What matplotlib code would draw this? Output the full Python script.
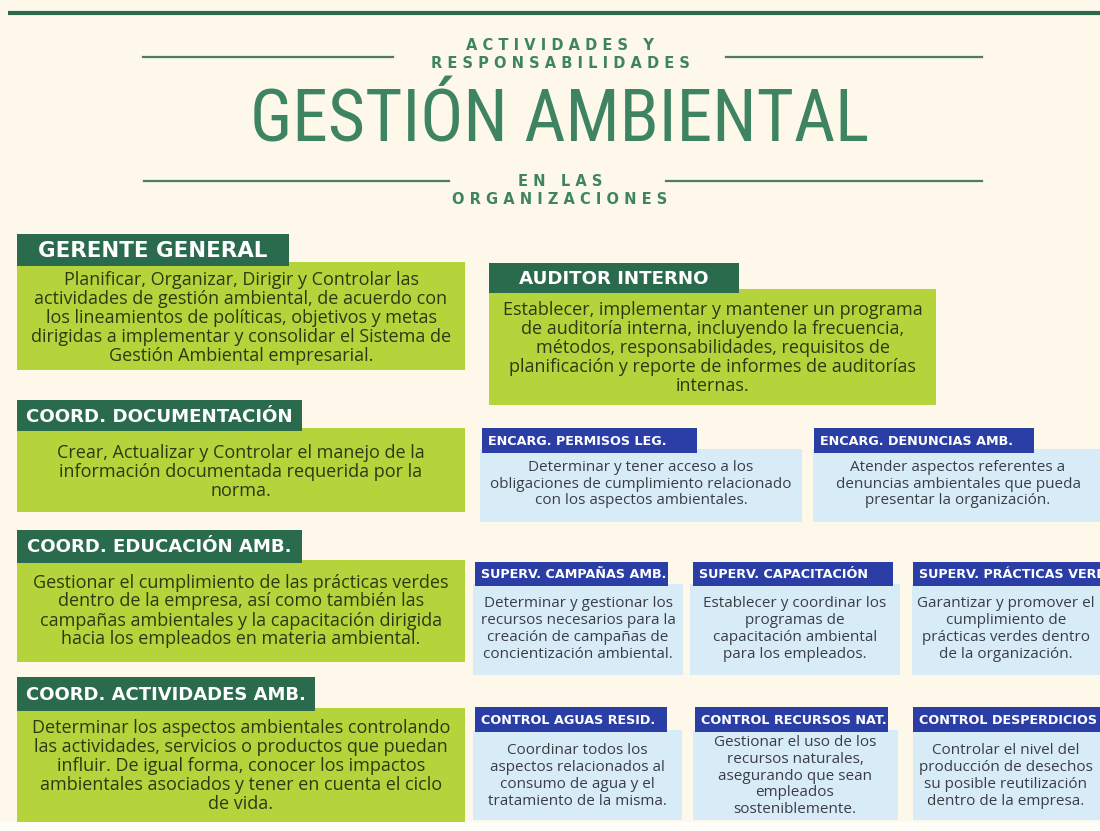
import matplotlib.pyplot as plt
from matplotlib.patches import Rectangle
from matplotlib import font_manager

# === Texts ===

top_words = ["ACTIVIDADES Y", "RESPONSABILIDADES"]
main_title = "GESTIÓN AMBIENTAL"
bottom_words = ["EN LAS", "ORGANIZACIONES"]

green_titles = [
    "GERENTE GENERAL",
    "AUDITOR INTERNO",
    "COORD. DOCUMENTACIÓN",
    "COORD. EDUCACIÓN AMB.",
    "COORD. ACTIVIDADES AMB.",
]
green_lines = [
    ["Planificar, Organizar, Dirigir y Controlar las",
     "actividades de gestión ambiental, de acuerdo con",
     "los lineamientos de políticas, objetivos y metas",
     "dirigidas a implementar y consolidar el Sistema de",
     "Gestión Ambiental empresarial."],
    ["Establecer, implementar y mantener un programa",
     "de auditoría interna, incluyendo la frecuencia,",
     "métodos, responsabilidades, requisitos de",
     "planificación y reporte de informes de auditorías",
     "internas."],
    ["Crear, Actualizar y Controlar el manejo de la",
     "información documentada requerida por la",
     "norma."],
    ["Gestionar el cumplimiento de las prácticas verdes",
     "dentro de la empresa, así como también las",
     "campañas ambientales y la capacitación dirigida",
     "hacia los empleados en materia ambiental."],
    ["Determinar los aspectos ambientales controlando",
     "las actividades, servicios o productos que puedan",
     "influir. De igual forma, conocer los impactos",
     "ambientales asociados y tener en cuenta el ciclo",
     "de vida."],
]

blue_titles = [
    "ENCARG. PERMISOS LEG.",
    "ENCARG. DENUNCIAS AMB.",
    "SUPERV. CAMPAÑAS AMB.",
    "SUPERV. CAPACITACIÓN",
    "SUPERV. PRÁCTICAS VERDES",
    "CONTROL AGUAS RESID.",
    "CONTROL RECURSOS NAT.",
    "CONTROL DESPERDICIOS",
]
blue_lines = [
    ["Determinar y tener acceso a los",
     "obligaciones de cumplimiento relacionado",
     "con los aspectos ambientales."],
    ["Atender aspectos referentes a",
     "denuncias ambientales que pueda",
     "presentar la organización."],
    ["Determinar y gestionar los",
     "recursos necesarios para la",
     "creación de campañas de",
     "concientización ambiental."],
    ["Establecer y coordinar los",
     "programas de",
     "capacitación ambiental",
     "para los empleados."],
    ["Garantizar y promover el",
     "cumplimiento de",
     "prácticas verdes dentro",
     "de la organización."],
    ["Coordinar todos los",
     "aspectos relacionados al",
     "consumo de agua y el",
     "tratamiento de la misma."],
    ["Gestionar el uso de los",
     "recursos naturales,",
     "asegurando que sean",
     "empleados",
     "sosteniblemente."],
    ["Controlar el nivel del",
     "producción de desechos",
     "su posible reutilización",
     "dentro de la empresa."],
]

# === Layout (pixels, y downwards) ===

# header rect (x, y, w, h), body rect (x, y, w, h), text centre y
green_heads = [(17, 234, 272, 32), (489, 263, 250, 30), (17, 400, 285, 31),
               (17, 530, 285, 33), (17, 677, 298, 34)]
green_head_text_w = [228, 190, 266, 264, 280]
green_bodies = [(17, 262, 448, 108), (489, 289, 447, 116), (17, 428, 448, 84),
                (17, 560, 448, 102), (17, 708, 448, 114)]
green_cy = [318, 348, 472, 611, 766]

blue_heads = [(482, 428, 215, 25), (814, 428, 220, 25), (475, 562, 193, 24),
              (693, 562, 200, 24), (913, 562, 200, 24), (475, 707, 192, 25),
              (695, 707, 193, 25), (913, 707, 200, 25)]
blue_bodies = [(480, 449, 322, 73), (813, 449, 290, 73), (473, 584, 210, 91),
               (690, 584, 210, 91), (912, 584, 200, 91), (473, 730, 209, 90),
               (693, 730, 205, 90), (913, 730, 200, 90)]
blue_cx = [641, 958, 578, 795, 1006, 577, 795, 1006]
blue_cy = [484, 484, 629, 629, 629, 776, 776, 776]

# === Colours ===

BG = "#fdf8ea"
DARK_GREEN = "#2a6b4e"
LIME = "#b5d33a"
TITLE_GREEN = "#3f8462"
RULE = "#4f7a64"
BLUE = "#2b3ea6"
LIGHT_BLUE = "#d8ecf8"
GREEN_TEXT = "#2c3a14"
BLUE_TEXT = "#3a3d46"

names = {f.name for f in font_manager.fontManager.ttflist}
narrow = next((n for n in ["Liberation Sans Narrow", "Roboto Condensed", "DejaVu Sans"]
               if n in names), "DejaVu Sans")
BODY_FONT = "Open Sans"
HEAD_FONT = "DejaVu Sans"

# === Figure ===

fig = plt.figure(figsize=(11, 8.31), dpi=100)
fig.patch.set_facecolor(BG)
ax = fig.add_axes([0, 0, 1, 1])
ax.set_xlim(0, 1100)
ax.set_ylim(831, 0)
ax.axis("off")
renderer = fig.canvas.get_renderer()


def fit_width(t, width):
    w = t.get_window_extent(renderer).width
    t.set_fontsize(t.get_fontsize() * width / w)


def spaced(word):
    return " ".join(word)


# top band
ax.plot([8, 1100], [13, 13], color="#2f6a4d", lw=3, solid_capstyle="butt")
ax.add_patch(Rectangle((0, 822), 1100, 9, color="#fefdf8", lw=0))

# header block
CX = 560
for y, word in zip([46, 63], top_words):
    ax.text(CX, y, spaced(word), ha="center", va="center", fontsize=10.5,
            fontweight="bold", color=TITLE_GREEN, family=HEAD_FONT)
for y, word in zip([182, 199], bottom_words):
    ax.text(CX, y, spaced(word), ha="center", va="center", fontsize=10.5,
            fontweight="bold", color=TITLE_GREEN, family=HEAD_FONT)
t = ax.text(CX, 122, main_title, ha="center", va="center", fontsize=50,
            color=TITLE_GREEN, family=narrow)
fit_width(t, 620)

ax.plot([143, 393], [57, 57], color=RULE, lw=1.6)
ax.plot([726, 982], [57, 57], color=RULE, lw=1.6)
ax.plot([144, 449], [181, 181], color=RULE, lw=1.6)
ax.plot([666, 982], [181, 181], color=RULE, lw=1.6)

# green role boxes
for title, lines, (hx, hy, hw, hh), tw, (bx, by, bw, bh), cy in zip(
        green_titles, green_lines, green_heads, green_head_text_w,
        green_bodies, green_cy):
    ax.add_patch(Rectangle((bx, by), bw, bh, color=LIME, lw=0))
    ax.add_patch(Rectangle((hx, hy), hw, hh, color=DARK_GREEN, lw=0))
    t = ax.text(hx + hw / 2, hy + hh / 2 + 1, title, ha="center", va="center",
                fontsize=13, fontweight="bold", color="white", family=HEAD_FONT)
    fit_width(t, tw)
    gap = 19
    for i, line in enumerate(lines):
        ax.text(bx + bw / 2, cy + (i - (len(lines) - 1) / 2) * gap, line,
                ha="center", va="center", fontsize=13, color=GREEN_TEXT,
                family=BODY_FONT)

# blue sub-role boxes
for title, lines, (hx, hy, hw, hh), (bx, by, bw, bh), cx, cy in zip(
        blue_titles, blue_lines, blue_heads, blue_bodies, blue_cx, blue_cy):
    ax.add_patch(Rectangle((bx, by), bw, bh, color=LIGHT_BLUE, lw=0))
    ax.add_patch(Rectangle((hx, hy), hw, hh, color=BLUE, lw=0))
    ax.text(hx + 6, hy + hh / 2 + 1, title, ha="left", va="center",
            fontsize=9.2, fontweight="bold", color="white", family=HEAD_FONT)
    gap = 16.8
    for i, line in enumerate(lines):
        ax.text(cx, cy + (i - (len(lines) - 1) / 2) * gap, line,
                ha="center", va="center", fontsize=11, color=BLUE_TEXT,
                family=BODY_FONT)

fig.savefig("out.png", dpi=100, facecolor=BG)
